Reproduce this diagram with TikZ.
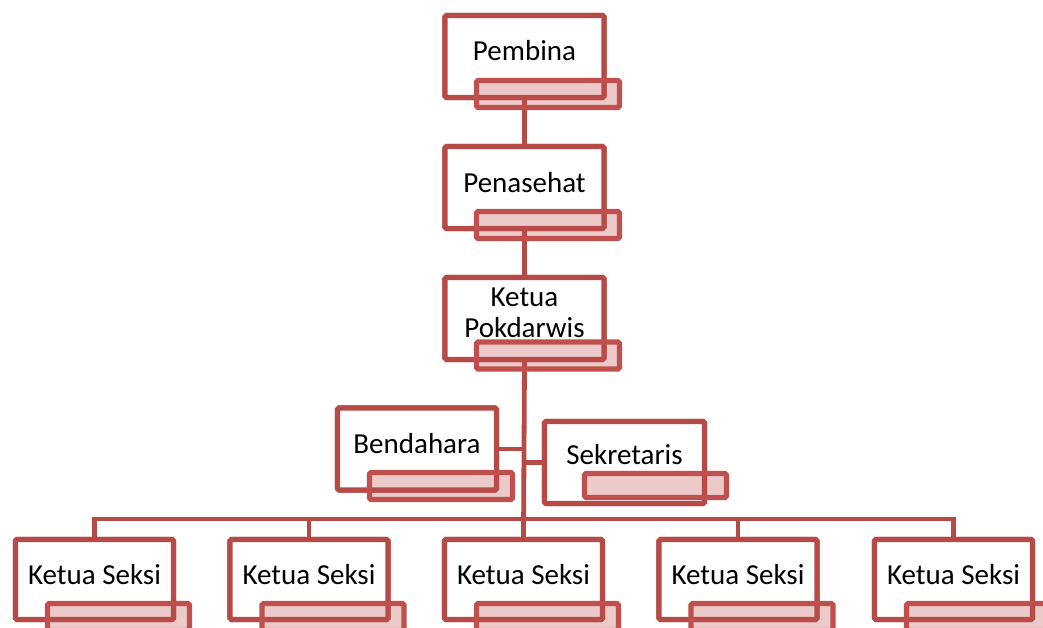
\documentclass[tikz,border=0pt]{standalone}
\usepackage{fontspec}
\setmainfont{Carlito}
\definecolor{boxred}{RGB}{182,74,71}
\definecolor{barred}{RGB}{192,80,77}
\tikzset{
  x=1pt, y=-1pt,
  orgbox/.style={draw=boxred, line width=5.2pt, fill=white, rounded corners=1.5pt, minimum width=159, minimum height=82, inner sep=0pt},
  orgbar/.style={draw=barred, line width=5.2pt, fill=barred, fill opacity=0.3, draw opacity=1, rounded corners=1.5pt, minimum width=143, minimum height=27, inner sep=0pt},
  orgtxt/.style={anchor=base, inner sep=0pt, font=\fontsize{29}{31}\selectfont, text=black},
  conn/.style={draw=boxred, line width=4.8pt},
}
\begin{document}
\begin{tikzpicture}
\useasboundingbox (0,0) rectangle (1043,627);
\clip (0,0) rectangle (1043,627);
% boxes (positions)
\path node[orgbox] (pembina) at (524.5,56.5) {};
\path node[orgbox] (penasehat) at (524.5,187.5) {};
\path node[orgbox] (ketua) at (524.5,318.5) {};
\path node[orgbox] (bendahara) at (417,449) {};
\path node[orgbox, minimum width=160] (sekretaris) at (624.5,462.5) {};
\foreach \i/\cx in {1/94.5,2/309,3/523.5,4/738,5/953.5}{
  \path node[orgbox, minimum width=158, minimum height=80] (ks\i) at (\cx,579.5) {};
}
% connectors
\coordinate (hb) at (524,519);
\draw[conn] (pembina.south) -- (penasehat.north);
\draw[conn] (penasehat.south) -- (ketua.north);
\draw[conn] (ketua.south) -- (ks3.north);
\draw[conn] (bendahara.east) -- (bendahara.east -| ketua.south);
\draw[conn] (sekretaris.west) -- (sekretaris.west -| ketua.south);
\draw[conn] (ks1.north) |- (hb) -| (ks5.north);
\draw[conn] (ks2.north) -- (ks2.north |- hb);
\draw[conn] (ks4.north) -- (ks4.north |- hb);
% redraw boxes on top of connectors
\path node[orgbox] at (pembina) {};
\path node[orgbox] at (penasehat) {};
\path node[orgbox] at (ketua) {};
\path node[orgbox] at (bendahara) {};
\path node[orgbox, minimum width=160] at (sekretaris) {};
\foreach \i in {1,...,5}{
  \path node[orgbox, minimum width=158, minimum height=80] at (ks\i) {};
}
% text
\node[orgtxt] (tpembina) at (524.5,60) {Pembina};
\node[orgtxt] (tpenasehat) at (524.5,192) {Penasehat};
\node[orgtxt] (tketua1) at (524.5,306) {Ketua};
\node[orgtxt] (tketua2) at (524.5,337) {Pokdarwis};
\node[orgtxt] (tbendahara) at (417,453) {Bendahara};
\node[orgtxt] (tsekretaris) at (624.5,464) {Sekretaris};
\foreach \i/\cx in {1/94.5,2/309,3/523.5,4/738,5/953.5}{
  \node[orgtxt] (tks\i) at (\cx,584) {Ketua Seksi};
}
% label bars
\node[orgbar] (bpembina) at (548,94) {};
\node[orgbar] (bpenasehat) at (548,225) {};
\node[orgbar] (bketua) at (548,355.5) {};
\node[orgbar] (bbendahara) at (441,486) {};
\node[orgbar, minimum width=142, minimum height=24] (bsekretaris) at (655.5,485.5) {};
\foreach \i/\cx in {1/118.5,2/333,3/547.5,4/762,5/977.5}{
  \node[orgbar, minimum width=142] (bks\i) at (\cx,617) {};
}
\end{tikzpicture}
\end{document}
